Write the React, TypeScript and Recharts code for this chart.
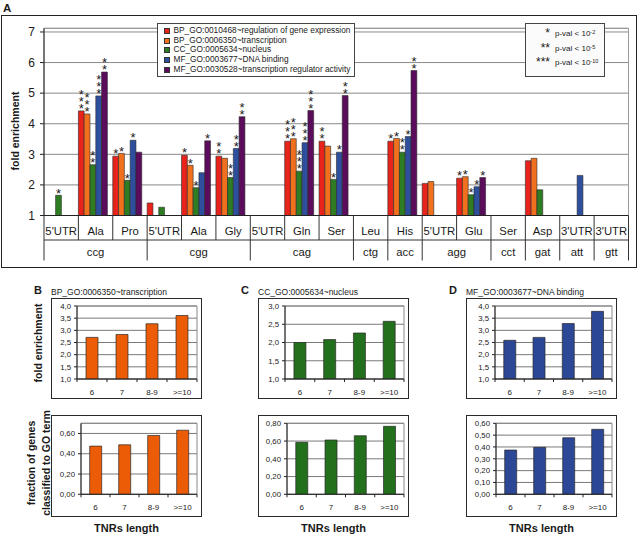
import React from 'react';
import { BarChart, Bar, XAxis, YAxis, CartesianGrid, Legend, LabelList, ReferenceArea } from 'recharts';

const FONT = "'Liberation Sans', Arial, Helvetica, sans-serif";
const INK = '#1a1a1a';

// ---------- Panel A data ----------
const subLabels = ["5'UTR", 'Ala', 'Pro', "5'UTR", 'Ala', 'Gly', "5'UTR", 'Gln', 'Ser', 'Leu', 'His', "5'UTR", 'Glu', 'Ser', 'Asp', "3'UTR", "3'UTR"];
const codonLabels = ['ccg', 'ccg', 'ccg', 'cgg', 'cgg', 'cgg', 'cag', 'cag', 'cag', 'ctg', 'acc', 'agg', 'agg', 'cct', 'gat', 'att', 'gtt'];

const seriesNames = [
  'BP_GO:0010468~regulation of gene expression',
  'BP_GO:0006350~transcription',
  'CC_GO:0005634~nucleus',
  'MF_GO:0003677~DNA binding',
  'MF_GO:0030528~transcription regulator activity',
];
const seriesColors = ['#e8231b', '#f0701e', '#2e7d22', '#2e4f9e', '#5b0c5b'];

const regulationValues = [null, 4.42, 2.94, 1.41, 2.97, 2.94, null, 3.43, 3.43, null, 3.43, 2.05, 2.22, null, 2.79, null, null];
const transcriptionValues = [null, 4.32, 3.03, null, 2.64, 2.87, null, 3.51, 3.27, null, 3.52, 2.11, 2.27, null, 2.87, null, null];
const nucleusValues = [1.66, 2.66, 2.15, 1.27, 1.91, 2.24, null, 2.45, 2.18, null, 3.07, null, 1.68, null, 1.84, null, null];
const dnaBindingValues = [null, 4.91, 3.46, null, 2.4, 3.19, null, 3.38, 3.07, null, 3.58, null, 1.94, null, null, 2.31, null];
const regulatorValues = [null, 5.69, 3.07, null, 3.44, 4.23, null, 4.43, 4.92, null, 5.74, null, 2.24, null, null, null, null];

const regulationStars = [0, 3, 1, 0, 1, 2, 0, 3, 2, 0, 1, 0, 1, 0, 0, 0, 0];
const transcriptionStars = [0, 3, 1, 0, 1, 0, 0, 3, 0, 0, 1, 0, 1, 0, 0, 0, 0];
const nucleusStars = [1, 2, 1, 0, 1, 2, 0, 3, 1, 0, 2, 0, 1, 0, 0, 0, 0];
const dnaBindingStars = [0, 3, 1, 0, 0, 2, 0, 3, 1, 0, 1, 0, 1, 0, 0, 0, 0];
const regulatorStars = [0, 2, 0, 0, 1, 2, 0, 3, 2, 0, 2, 0, 1, 0, 0, 0, 0];

const foldTicks = [1, 2, 3, 4, 5, 6, 7];

const pStars = ['*', '**', '***'];
const pExponents = ['-2', '-5', '-10'];

// ---------- Panels B, C, D data ----------
const lengthCategories = ['6', '7', '8-9', '>=10'];
const panelLetters = ['B', 'C', 'D'];
const panelTitles = ['BP_GO:0006350~transcription', 'CC_GO:0005634~nucleus', 'MF_GO:0003677~DNA binding'];
const panelColors = ['#ec5c06', '#23701c', '#2b4796'];

const transcriptionFold = [2.71, 2.83, 3.27, 3.61];
const nucleusFold = [2.0, 2.08, 2.26, 2.58];
const dnaBindingFold = [2.59, 2.71, 3.28, 3.78];

const transcriptionFraction = [0.475, 0.488, 0.58, 0.632];
const nucleusFraction = [0.586, 0.612, 0.66, 0.766];
const dnaBindingFraction = [0.374, 0.397, 0.478, 0.549];

const foldTicksB = [1, 1.5, 2, 2.5, 3, 3.5, 4];
const foldTicksC = [1, 1.5, 2, 2.5, 3];
const foldTicksD = [1, 1.5, 2, 2.5, 3, 3.5, 4];
const fracTicksB = [0, 0.2, 0.4, 0.6];
const fracTicksC = [0, 0.2, 0.4, 0.6, 0.8];
const fracTicksD = [0, 0.1, 0.2, 0.3, 0.4, 0.5, 0.6];

const mainData = subLabels.map((sub, i) => ({
  sub,
  codon: codonLabels[i],
  s0: regulationValues[i],
  s1: transcriptionValues[i],
  s2: nucleusValues[i],
  s3: dnaBindingValues[i],
  s4: regulatorValues[i],
  st0: regulationStars[i],
  st1: transcriptionStars[i],
  st2: nucleusStars[i],
  st3: dnaBindingStars[i],
  st4: regulatorStars[i],
}));
const seriesValues = [regulationValues, transcriptionValues, nucleusValues, dnaBindingValues, regulatorValues];

// ---------- geometry ----------
const PLOT_LEFT = 44;
const PLOT_RIGHT = 628.5;
const PLOT_TOP = 28.3;
const PLOT_BOTTOM = 215.5;
const MAIN_W = 639;
const MAIN_H = 270;
const Y_AXIS_W = 34;
const X_AXIS_H = 45;
const CAT_HALF = (PLOT_RIGHT - PLOT_LEFT) / subLabels.length / 2;

const renderStars = (props: any) => {
  const vb = props.viewBox || props;
  const x = vb.x ?? props.x;
  const y = vb.y ?? props.y;
  const width = vb.width ?? props.width;
  const n = Number(props.value);
  if (!n || x == null || y == null || isNaN(y)) return null;
  const cx = x + width / 2;
  const glyphs = pStars[n - 1].split('');
  return (
    <text x={cx} y={y - 5 + 7.2} textAnchor="middle" fontSize={13} fontFamily={FONT} fill={INK}>
      {glyphs.map((g, k) => (
        <tspan key={k} x={cx} dy={k === 0 ? 0 : -7}>{g}</tspan>
      ))}
    </text>
  );
};

const MainTick = (props: any) => {
  const { x, y, payload } = props;
  const i = props.index ?? payload.index;
  const half = payload.offset || CAT_HALF;
  const left = x - half;
  const right = x + half;
  const groupStart = i === 0 || codonLabels[i] !== codonLabels[i - 1];
  let n = 1;
  while (i + n < codonLabels.length && codonLabels[i + n] === codonLabels[i]) n++;
  const isLast = i === codonLabels.length - 1;
  return (
    <g fontFamily={FONT}>
      <text x={x} y={y + 19.5} textAnchor="middle" fontSize={11.3} fill={INK}>{payload.value}</text>
      <line x1={left} x2={right} y1={y + 24.5} y2={y + 24.5} stroke="#333" strokeWidth={1} />
      <line x1={left} x2={left} y1={y} y2={groupStart ? y + 45 : y + 24.5} stroke="#333" strokeWidth={1} />
      {isLast && <line x1={right} x2={right} y1={y} y2={y + 45} stroke="#333" strokeWidth={1} />}
      {groupStart && (
        <text x={left + n * half} y={y + 40} textAnchor="middle" fontSize={11.3} fill={INK}>{codonLabels[i]}</text>
      )}
    </g>
  );
};

const MainLegend = (props: any) => {
  const items = (props.payload || [])
    .filter((p: any) => p.type !== 'none' && seriesNames.indexOf(p.value) >= 0)
    .slice()
    .sort((a: any, b: any) => seriesNames.indexOf(a.value) - seriesNames.indexOf(b.value));
  return (
    <div style={{ boxSizing: 'border-box', width: 198, height: 54, border: '1px solid #444', background: '#fff', padding: '2.6px 0 0 5.5px', fontFamily: FONT, fontSize: 8.3, color: INK }}>
      {items.map((p: any) => (
        <div key={p.value} style={{ display: 'flex', alignItems: 'center', height: 9.7, lineHeight: '9.7px', whiteSpace: 'nowrap' }}>
          <span style={{ display: 'inline-block', boxSizing: 'border-box', width: 6, height: 6, background: p.color, border: '0.5px solid #333', marginRight: 4 }} />
          {p.value}
        </div>
      ))}
    </div>
  );
};

function MainChart() {
  return (
    <div style={{ position: 'absolute', left: 0, top: 0 }}>
      <BarChart
        width={MAIN_W}
        height={MAIN_H}
        data={mainData}
        margin={{ top: PLOT_TOP, right: MAIN_W - PLOT_RIGHT, bottom: MAIN_H - PLOT_BOTTOM - X_AXIS_H, left: PLOT_LEFT - Y_AXIS_W }}
        barGap={0}
        barCategoryGap={0}
      >
        <CartesianGrid vertical={false} stroke="#8a8a8a" strokeWidth={1} />
        <ReferenceArea y1={1} y2={7.12} fill="none" stroke="#9a9a9a" strokeWidth={1} ifOverflow="visible" />
        <XAxis
          dataKey="sub"
          interval={0}
          tickLine={false}
          tickSize={0}
          tickMargin={0}
          height={X_AXIS_H}
          axisLine={{ stroke: '#222' }}
          tick={MainTick}
        />
        <YAxis
          type="number"
          domain={[1, 7.12]}
          ticks={foldTicks}
          interval={0}
          allowDataOverflow
          width={Y_AXIS_W}
          tickSize={4}
          tickMargin={5}
          axisLine={{ stroke: '#222' }}
          tickLine={{ stroke: '#222' }}
          tick={{ fontSize: 12, fill: INK, fontFamily: FONT }}
        />
        <Legend
          layout="horizontal"
          verticalAlign="middle"
          align="center"
          itemSorter={null as any}
          wrapperStyle={{ left: 157, top: 22.5, width: 198, height: 54 }}
          content={MainLegend}
        />
        {seriesValues.map((_, i) => (
          <Bar
            key={i}
            dataKey={`s${i}`}
            name={seriesNames[i]}
            fill={seriesColors[i]}
            stroke="#2a2a2a"
            strokeWidth={0.6}
            barSize={5.8}
            isAnimationActive={false}
          >
            <LabelList dataKey={`st${i}`} content={renderStars} />
          </Bar>
        ))}
        <Bar dataKey="spacer" barSize={5} legendType="none" isAnimationActive={false} />
      </BarChart>
    </div>
  );
}

// ---------- small charts ----------
type SmallProps = {
  values: number[];
  color: string;
  domain: [number, number];
  ticks: number[];
  decimals: number;
  boxLeft: number;
  boxTop: number;
  boxHeight: number;
  plotLeftOffset: number;
  plotTop: number;
  plotBottom: number;
};

const BOX_W = 151;

function SmallChart(p: SmallProps) {
  const data = lengthCategories.map((c, i) => ({ cat: c, v: p.values[i] }));
  const yW = 20;
  const xH = 18;
  const margin = {
    top: p.plotTop - p.boxTop,
    right: 5,
    bottom: p.boxTop + p.boxHeight - p.plotBottom - xH,
    left: p.plotLeftOffset - yW,
  };
  const fmt = (v: number) => v.toFixed(p.decimals).replace('.', ',');
  const last = lengthCategories.length - 1;
  const tick = (props: any) => {
    const { x, y, payload } = props;
    const idx = props.index ?? payload.index;
    const half = payload.offset || 15;
    return (
      <g fontFamily={FONT}>
        <line x1={x - half} x2={x - half} y1={y} y2={y + 3} stroke="#222" />
        {idx === last && <line x1={x + half} x2={x + half} y1={y} y2={y + 3} stroke="#222" />}
        <text x={x} y={y + 15.5} textAnchor="middle" fontSize={8} fill={INK}>{payload.value}</text>
      </g>
    );
  };
  return (
    <>
      <div style={{ position: 'absolute', left: p.boxLeft, top: p.boxTop, width: BOX_W, height: p.boxHeight, boxSizing: 'border-box', border: '1px solid #2a2a2a' }} />
      <div style={{ position: 'absolute', left: p.boxLeft, top: p.boxTop }}>
        <BarChart width={BOX_W} height={p.boxHeight} data={data} margin={margin} barCategoryGap="30%">
          <CartesianGrid vertical={false} stroke="#7a7a7a" />
          <ReferenceArea y1={p.domain[0]} y2={p.domain[1]} fill="none" stroke="#8a8a8a" ifOverflow="visible" />
          <XAxis dataKey="cat" interval={0} tickLine={false} tickSize={0} tickMargin={0} height={xH} axisLine={{ stroke: '#222' }} tick={tick} />
          <YAxis
            type="number"
            domain={p.domain}
            ticks={p.ticks}
            interval={0}
            allowDataOverflow
            width={yW}
            tickSize={3}
            tickMargin={3}
            tickFormatter={fmt}
            axisLine={{ stroke: '#222' }}
            tickLine={{ stroke: '#222' }}
            tick={{ fontSize: 7.8, fill: INK, fontFamily: FONT }}
          />
          <Bar dataKey="v" fill={p.color} stroke="#2a2a2a" strokeWidth={0.7} isAnimationActive={false} />
        </BarChart>
      </div>
    </>
  );
}

const boxLefts = [51, 258, 466];
const topPlotOffsets = [26, 27, 29];
const bottomPlotOffsets = [30, 29, 30];
const foldSets = [transcriptionFold, nucleusFold, dnaBindingFold];
const fracSets = [transcriptionFraction, nucleusFraction, dnaBindingFraction];
const foldDomains: [number, number][] = [[1, 4], [1, 3], [1, 4]];
const fracDomains: [number, number][] = [[0, 0.7], [0, 0.8], [0, 0.6]];
const foldTickSets = [foldTicksB, foldTicksC, foldTicksD];
const fracTickSets = [fracTicksB, fracTicksC, fracTicksD];

export default function App() {
  return (
    <div style={{ position: 'absolute', left: 0, top: 0, width: 639, height: 535, background: '#fff', fontFamily: FONT, overflow: 'hidden' }}>
      {/* panel A frame */}
      <div style={{ position: 'absolute', left: 1, top: 15, width: 636, height: 253, boxSizing: 'border-box', border: '1px solid #222' }} />
      <MainChart />
      {/* p-value legend */}
      <div style={{ position: 'absolute', left: 525, top: 22.5, width: 80, height: 54, boxSizing: 'border-box', border: '1px solid #444', background: '#fbfbfb', fontFamily: FONT, fontSize: 8, color: INK }}>
        {pStars.map((s, i) => (
          <div key={i} style={{ position: 'absolute', left: 0, top: 3.5 + i * 14.7, height: 12, width: 78, whiteSpace: 'nowrap' }}>
            <span style={{ position: 'absolute', right: 54, top: -1, fontSize: 12, lineHeight: '14px' }}>{s}</span>
            <span style={{ position: 'absolute', left: 29, top: 2, lineHeight: '10px' }}>
              p-val &lt; 10<sup style={{ fontSize: 5.5, verticalAlign: 'top', position: 'relative', top: -2 }}>{pExponents[i]}</sup>
            </span>
          </div>
        ))}
      </div>

      {boxLefts.map((bl, i) => (
        <React.Fragment key={i}>
          <SmallChart
            values={foldSets[i]}
            color={panelColors[i]}
            domain={foldDomains[i]}
            ticks={foldTickSets[i]}
            decimals={1}
            boxLeft={bl}
            boxTop={298}
            boxHeight={101}
            plotLeftOffset={topPlotOffsets[i]}
            plotTop={306}
            plotBottom={379}
          />
          <SmallChart
            values={fracSets[i]}
            color={panelColors[i]}
            domain={fracDomains[i]}
            ticks={fracTickSets[i]}
            decimals={2}
            boxLeft={bl}
            boxTop={415}
            boxHeight={102}
            plotLeftOffset={bottomPlotOffsets[i]}
            plotTop={423.3}
            plotBottom={494.3}
          />
        </React.Fragment>
      ))}

      <svg width={639} height={535} style={{ position: 'absolute', left: 0, top: 0, pointerEvents: 'none' }} fontFamily={FONT}>
        <text x={3} y={12} fontSize={11.5} fontWeight="bold" fill={INK}>A</text>
        <text x={15} y={131} transform="rotate(-90 15 131)" textAnchor="middle" dominantBaseline="central" fontSize={10.5} fontWeight="bold" fill={INK}>fold enrichment</text>
        {boxLefts.map((bl, i) => (
          <React.Fragment key={i}>
            <text x={bl - 17} y={294} fontSize={11} fontWeight="bold" fill={INK}>{panelLetters[i]}</text>
            <text x={bl} y={295} fontSize={8.5} fill={INK}>{panelTitles[i]}</text>
            <text x={bl + BOX_W / 2} y={532} textAnchor="middle" fontSize={11} fontWeight="bold" fill={INK}>TNRs length</text>
          </React.Fragment>
        ))}
        <text x={38} y={343} transform="rotate(-90 38 343)" textAnchor="middle" dominantBaseline="central" fontSize={10.5} fontWeight="bold" fill={INK}>fold enrichment</text>
        <text x={31} y={463} transform="rotate(-90 31 463)" textAnchor="middle" dominantBaseline="central" fontSize={10.5} fontWeight="bold" fill={INK}>fraction of genes</text>
        <text x={45.5} y={463} transform="rotate(-90 45.5 463)" textAnchor="middle" dominantBaseline="central" fontSize={10.5} fontWeight="bold" fill={INK}>classified to GO term</text>
      </svg>
    </div>
  );
}
